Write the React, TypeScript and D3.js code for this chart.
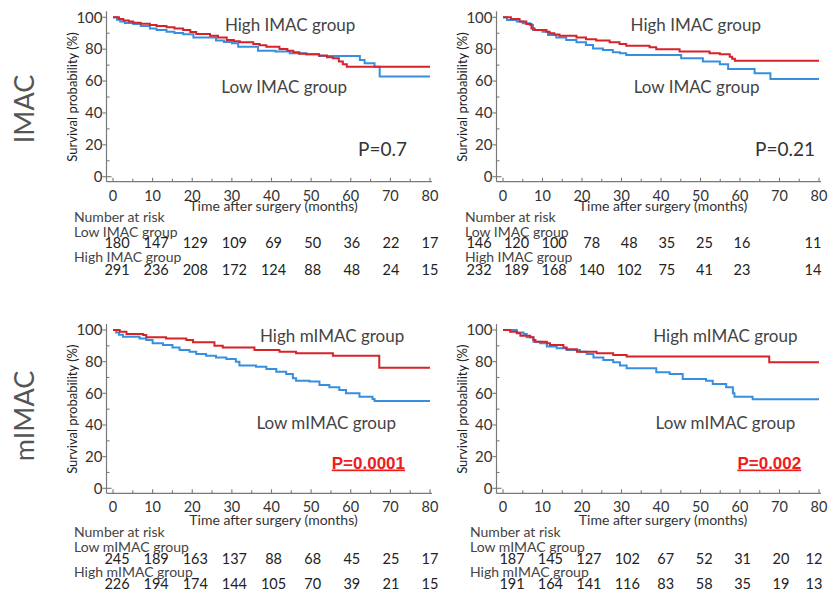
import React from 'react';
import * as d3 from 'd3';

type Pt = [number, number];

// ---- axis ticks ----
const monthTicks = [0, 10, 20, 30, 40, 50, 60, 70, 80];
const monthMinor = [5, 15, 25, 35, 45, 55, 65, 75];
const survTicks = [0, 20, 40, 60, 80, 100];
const survMinor = [10, 30, 50, 70, 90];

// ---- survival curves (months, %) ----
const imacC1High: Pt[] = [[0,100],[1.5,99],[2.6,98],[4,97.3],[5.1,96.6],[7,96],[9.3,95.2],[11,94.5],[13.5,93.7],[15.5,93],[17.7,92],[19.5,90.8],[21,89.5],[24.5,88.5],[26.5,87.4],[28.7,85.8],[30.5,85],[32,84.3],[35.4,83.3],[37,82.4],[38.7,81.6],[42,80.1],[44,79],[45.5,78],[47,77.2],[48.8,76.8],[52,76],[54,75],[55.5,74.3],[57,72.2],[58,70.5],[59,69],[80,69]];
const imacC1Low: Pt[] = [[0,100],[1,98.5],[1.8,97.3],[3,96.5],[5.1,95.8],[7,94.5],[9.3,93],[11,92],[13.5,91],[15.5,90.2],[17.7,89.3],[20.3,87.4],[26,85.4],[28,84.5],[30,83.7],[31.6,81.6],[36.6,79],[41,78.5],[44.6,77.4],[48.8,76.8],[52,75.7],[62.3,73.2],[63.5,71.1],[66,69],[67.3,62.8],[80,62.8]];
const imacC2High: Pt[] = [[0,100],[2,99],[4.2,97.3],[5.9,95.8],[7.2,93],[8,92],[11,91],[11.8,90],[13,89.2],[14.3,88.5],[18.6,87.4],[21,86.2],[23.6,85.4],[27,84.3],[29.5,83.3],[31.2,82.2],[37.1,81.2],[38.8,79.9],[44.7,78.5],[52.3,77.4],[54.9,76.8],[57.4,75.3],[58,74],[58.7,72.8],[80,72.8]];
const imacC2Low: Pt[] = [[0,100],[1,98.3],[3.5,97.3],[5,96.2],[6.8,95.2],[7.6,92],[10,91],[11.4,88.9],[13.5,87.4],[16,85.8],[18.6,84.3],[21,82.6],[22.8,80.5],[25.3,79.5],[27.8,78],[29.6,77.4],[31.2,76.4],[45.1,74.3],[50.6,72.2],[54.9,70.5],[57,67.6],[63.7,64.9],[67.7,61.3],[80,61.3]];
const mimacC1High: Pt[] = [[0,100],[1.7,98.9],[3.4,97.5],[7.6,96.8],[8.4,95.4],[13.4,94.7],[18.5,93.7],[20.2,92.2],[25.6,90.1],[27.7,89],[35.7,87.4],[42,86.3],[46.2,85.3],[55.5,83.8],[67.2,76.2],[80,76.2]];
const mimacC1Low: Pt[] = [[0,100],[0.8,98.5],[1.5,97],[2.5,95.8],[6.7,94.7],[8.4,93.7],[10,91.6],[12.6,90.5],[15,89],[16.8,87.4],[19.3,86.3],[21,84.8],[23.5,83.8],[26,82.7],[28.6,81.7],[31,80],[31.9,77.5],[36.1,76.8],[38.7,75.4],[41.2,73.7],[43.7,72.2],[45.4,69.5],[46.2,68],[49.6,67.4],[52.1,65.3],[54.6,63.8],[57.1,62.1],[58.8,60],[62.2,57.9],[65.5,56.4],[66,55.2],[80,55.2]];
const mimacC2High: Pt[] = [[0,100],[1.8,98.9],[3.5,97.9],[4.4,96.4],[6.9,95.4],[7.7,93.7],[8.2,92.6],[11.1,91.6],[11.9,90.5],[15.3,89],[16.1,87.8],[18.7,86.3],[23.7,85.3],[27.9,84.2],[31.3,83.2],[67.4,79.6],[80,79.6]];
const mimacC2Low: Pt[] = [[0,100],[3.5,98.5],[5.2,97.5],[6,95.4],[7.7,92.6],[9.4,91.6],[11.1,89.5],[13.6,88.4],[16.1,87.4],[19.5,86.3],[21.2,84.8],[22.9,82.7],[25.4,81],[27.9,79.6],[29.6,77.5],[31.3,75.8],[38.8,73.3],[42.2,72.2],[45.5,69],[51.4,68],[53.1,65.9],[56.5,63.8],[58.2,60],[58.6,57.9],[63.2,56.2],[80,56.2]];

// ---- number at risk ----
const riskImacC1Low = [180, 147, 129, 109, 69, 50, 36, 22, 17];
const riskImacC1High = [291, 236, 208, 172, 124, 88, 48, 24, 15];
const riskImacC2Low = [146, 120, 100, 78, 48, 35, 25, 16, 11];
const riskImacC2High = [232, 189, 168, 140, 102, 75, 41, 23, 14];
const riskMimacC1Low = [245, 189, 163, 137, 88, 68, 45, 25, 17];
const riskMimacC1High = [226, 194, 174, 144, 105, 70, 39, 21, 15];
const riskMimacC2Low = [187, 145, 127, 102, 67, 52, 31, 20, 12];
const riskMimacC2High = [191, 164, 141, 116, 83, 58, 35, 19, 13];

const RED = '#d6232a';
const BLUE = '#3790df';
const AXIS = '#7a7a7a';
const TXT = '#444';
const FONT = 'Lato, "Open Sans", sans-serif';

interface PanelCfg {
  left: number; right: number; top: number; bottom: number;
  high: Pt[]; low: Pt[];
  riskLow: number[]; riskHigh: number[];
  riskRange: number[]; rowX: number;
  rows: number[]; // baselines: tick, title, NAR, lowLbl, lowN, highLbl, highN
  highName: string; lowName: string;
  highPos: Pt; lowPos: Pt;
  pText: string; pPos: Pt; pSig: boolean;
}

const topRows = [200.5, 211, 222, 236.5, 248, 261.5, 274.5];
const botRows = [511.5, 525, 537, 551.5, 563.5, 576.5, 588.5];

const panels: PanelCfg[] = [
  { left: 113, right: 430, top: 17.3, bottom: 176.7, high: imacC1High, low: imacC1Low,
    riskLow: riskImacC1Low, riskHigh: riskImacC1High, riskRange: [117, 391, 430], rowX: 74, rows: topRows,
    highName: 'High IMAC group', lowName: 'Low IMAC group',
    highPos: [44.7, 95.2], lowPos: [43.2, 56.3], pText: 'P=0.7', pPos: [74.2, 13], pSig: false },
  { left: 503, right: 819, top: 17.3, bottom: 176.7, high: imacC2High, low: imacC2Low,
    riskLow: riskImacC2Low, riskHigh: riskImacC2High, riskRange: [479, 742, 813], rowX: 465, rows: topRows,
    highName: 'High IMAC group', lowName: 'Low IMAC group',
    highPos: [48.8, 95.2], lowPos: [49, 56.3], pText: 'P=0.21', pPos: [79, 13], pSig: false },
  { left: 113, right: 430, top: 330, bottom: 488.3, high: mimacC1High, low: mimacC1Low,
    riskLow: riskMimacC1Low, riskHigh: riskMimacC1High, riskRange: [117, 391, 430], rowX: 74, rows: botRows,
    highName: 'High mIMAC group', lowName: 'Low mIMAC group',
    highPos: [55.3, 96], lowPos: [53.8, 41], pText: 'P=0.0001', pPos: [73.7, 12.5], pSig: true },
  { left: 503, right: 819, top: 330, bottom: 488.3, high: mimacC2High, low: mimacC2Low,
    riskLow: riskMimacC2Low, riskHigh: riskMimacC2High, riskRange: [512, 781, 814], rowX: 470, rows: botRows,
    highName: 'High mIMAC group', lowName: 'Low mIMAC group',
    highPos: [56.3, 96], lowPos: [56.3, 41], pText: 'P=0.002', pPos: [75.5, 12.5], pSig: true },
];

function Panel({ c }: { c: PanelCfg }) {
  const x = d3.scaleLinear().domain([0, 80]).range([c.left, c.right]);
  const y = d3.scaleLinear().domain([0, 100]).range([c.bottom, c.top]);
  const rx = d3.scaleLinear().domain([0, 70, 80]).range(c.riskRange);
  const line = d3.line<Pt>().x(d => x(d[0])).y(d => y(d[1])).curve(d3.curveStepAfter);
  const axX = c.left - 6.5;
  const axY = c.bottom + 5;
  const [tickB, titleB, narB, lowLB, lowNB, highLB, highNB] = c.rows;
  return (
    <g>
      {/* axes */}
      <line x1={axX} x2={axX} y1={c.top - 6} y2={axY} stroke={AXIS} strokeWidth={1.2} />
      <line x1={axX} x2={x(80) + 2} y1={axY} y2={axY} stroke={AXIS} strokeWidth={1.2} />
      {survTicks.map(v => (
        <g key={'yt' + v}>
          <line x1={axX - 4} x2={axX} y1={y(v)} y2={y(v)} stroke={AXIS} strokeWidth={1.1} />
          <text x={axX - 4} y={y(v)} dy="0.35em" textAnchor="end" fontSize={15} fill="#333" fontFamily={FONT}>{v}</text>
        </g>
      ))}
      {survMinor.map(v => (
        <line key={'ym' + v} x1={axX} x2={axX + 3} y1={y(v)} y2={y(v)} stroke={AXIS} strokeWidth={1.1} />
      ))}
      <line x1={axX} x2={axX + 5} y1={y(0)} y2={y(0)} stroke={AXIS} strokeWidth={1.1} />
      {monthTicks.map(v => (
        <g key={'xt' + v}>
          <line x1={x(v)} x2={x(v)} y1={axY} y2={axY - 4} stroke={AXIS} strokeWidth={1.1} />
          <text x={x(v)} y={tickB} textAnchor="middle" fontSize={14.5} fill="#333" fontFamily={FONT}>{v}</text>
        </g>
      ))}
      {monthMinor.map(v => (
        <line key={'xm' + v} x1={x(v)} x2={x(v)} y1={axY} y2={axY - 3} stroke={AXIS} strokeWidth={1.1} />
      ))}
      {/* axis titles */}
      <text transform={`translate(${c.left - 41},${(c.top + c.bottom) / 2}) rotate(-90)`} textAnchor="middle" dy="0.35em"
        fontSize={13} fill="#222" fontFamily={FONT}>Survival probability (%)</text>
      <text x={(x(0) + x(80)) / 2 + 2} y={titleB} textAnchor="middle" fontSize={14} fill="#333" fontFamily={FONT}>Time after surgery (months)</text>
      {/* curves */}
      <path d={line(c.low) || ''} fill="none" stroke={BLUE} strokeWidth={2} />
      <path d={line(c.high) || ''} fill="none" stroke={RED} strokeWidth={2} />
      {/* group labels */}
      <text x={x(c.highPos[0])} y={y(c.highPos[1])} dy="0.35em" textAnchor="middle" fontSize={17} fill={TXT} fontFamily={FONT}>{c.highName}</text>
      <text x={x(c.lowPos[0])} y={y(c.lowPos[1])} dy="0.35em" textAnchor="middle" fontSize={17} fill={TXT} fontFamily={FONT}>{c.lowName}</text>
      {/* p value */}
      <text x={x(c.pPos[0])} y={y(c.pPos[1])} textAnchor="end"
        fontSize={c.pSig ? 17 : 19} fontWeight={c.pSig ? 'bold' : 'normal'}
        fill={c.pSig ? '#ee1c1c' : '#333'} textDecoration={c.pSig ? 'underline' : 'none'}
        fontFamily={c.pSig ? '"Liberation Sans", Arial, sans-serif' : FONT}>{c.pText}</text>
      {/* number at risk */}
      <text x={c.rowX} y={narB} fontSize={14} fill={TXT} fontFamily={FONT}>Number at risk</text>
      <text x={c.rowX} y={lowLB} fontSize={14} fill={TXT} fontFamily={FONT}>{c.lowName}</text>
      <text x={c.rowX} y={highLB} fontSize={14} fill={TXT} fontFamily={FONT}>{c.highName}</text>
      {c.riskLow.map((n, i) => (
        <text key={'rl' + i} x={rx(monthTicks[i])} y={lowNB} textAnchor="middle" fontSize={14.5} fill="#222" fontFamily={FONT}>{n}</text>
      ))}
      {c.riskHigh.map((n, i) => (
        <text key={'rh' + i} x={rx(monthTicks[i])} y={highNB} textAnchor="middle" fontSize={14.5} fill="#222" fontFamily={FONT}>{n}</text>
      ))}
    </g>
  );
}

export default function App() {
  return (
    <svg width={831} height={590} viewBox="0 0 831 590"
      style={{ position: 'absolute', left: 0, top: 0, background: '#fff' }}>
      <rect width={831} height={590} fill="#fff" />
      {panels.map((c, i) => <Panel key={i} c={c} />)}
      <text transform="translate(25,109) rotate(-90)" textAnchor="middle" dy="0.35em" fontSize={27} fill="#555" fontFamily={FONT}>IMAC</text>
      <text transform="translate(25,416) rotate(-90)" textAnchor="middle" dy="0.35em" fontSize={27} fill="#555" fontFamily={FONT}>mIMAC</text>
    </svg>
  );
}
